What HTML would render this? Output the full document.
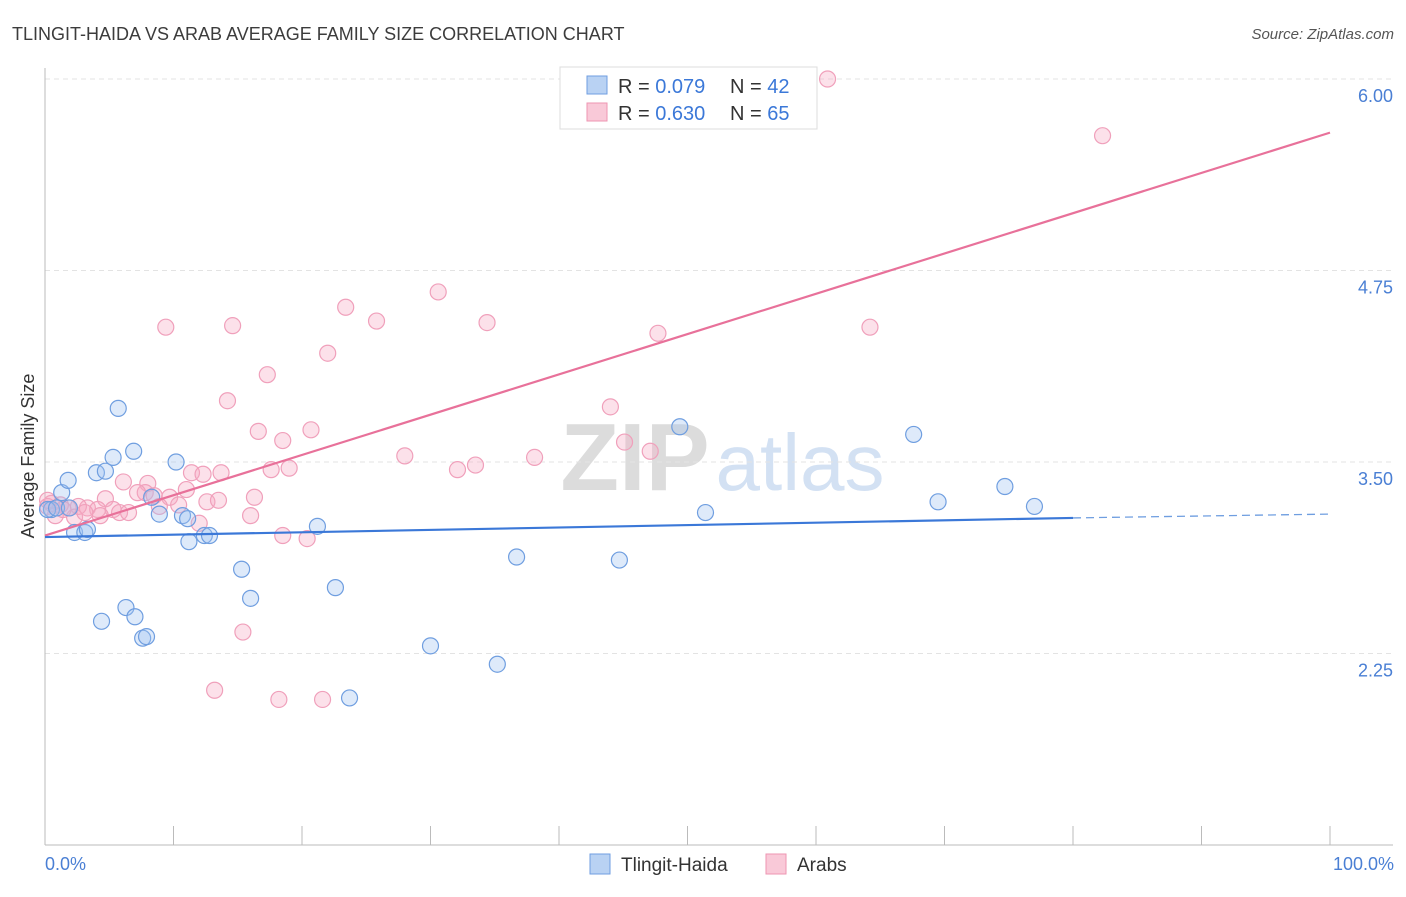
<!DOCTYPE html>
<html><head><meta charset="utf-8">
<style>
body{margin:0;background:#fff;font-family:"Liberation Sans",sans-serif;}
svg text{font-family:"Liberation Sans",sans-serif;}
</style></head>
<body>
<svg id="chart" width="1406" height="892" xmlns="http://www.w3.org/2000/svg">
<text x="12" y="40" font-size="18" fill="#3c3c3c">TLINGIT-HAIDA VS ARAB AVERAGE FAMILY SIZE CORRELATION CHART</text>
<text x="1394" y="39" font-size="15" fill="#555" text-anchor="end" font-style="italic">Source: ZipAtlas.com</text>
<g>
<text x="635" y="490" font-size="96" fill="#dcdcdc" text-anchor="middle" font-family="Liberation Serif" font-weight="bold">ZIP</text>
<text x="800" y="490" font-size="80" fill="#d3e1f3" text-anchor="middle">atlas</text>
</g>
<g id="grid"></g>
<g id="axes"></g>
<g id="points"></g>
<g id="lines"></g>
<text transform="translate(34,456) rotate(-90)" font-size="18" fill="#333" text-anchor="middle">Average Family Size</text>
<text x="45" y="870" font-size="18" fill="#4a7fd4">0.0%</text>
<text x="1394" y="870" font-size="18" fill="#4a7fd4" text-anchor="end">100.0%</text>
<g>
<rect x="560" y="67" width="257" height="62" fill="#fff" stroke="#ddd"/>
<rect x="587" y="76" width="20" height="18" fill="#b9d2f3" stroke="#6f9ee0"/>
<rect x="587" y="103" width="20" height="18" fill="#f9c9d8" stroke="#ee95b2"/>
<text x="618" y="93" font-size="20" fill="#333">R = <tspan fill="#3b78d8">0.079</tspan></text>
<text x="730" y="93" font-size="20" fill="#333">N = <tspan fill="#3b78d8">42</tspan></text>
<text x="618" y="120" font-size="20" fill="#333">R = <tspan fill="#3b78d8">0.630</tspan></text>
<text x="730" y="120" font-size="20" fill="#333">N = <tspan fill="#3b78d8">65</tspan></text>
</g>
<g>
<rect x="590" y="854" width="20" height="20" fill="#b9d2f3" stroke="#6f9ee0"/>
<text x="621" y="871" font-size="19" fill="#333">Tlingit-Haida</text>
<rect x="766" y="854" width="20" height="20" fill="#f9c9d8" stroke="#ee95b2"/>
<text x="797" y="871" font-size="19" fill="#333">Arabs</text>
</g>
</svg>
<script>
const yTicks=[6.00,4.75,3.50,2.25];
const yTickLabels=["6.00","4.75","3.50","2.25"];
const blueX=[0.5,1.3,1.8,2.3,3.1,3.3,4.0,4.7,5.3,5.7,6.3,4.4,7.0,7.6,7.9,6.9,8.3,8.9,10.2,10.7,11.1,11.2,12.4,12.8,15.3,16.0,21.2,22.6,23.7,30.0,35.2,36.7,44.7,49.4,51.4,67.6,69.5,74.7,77.0,0.2,0.9,1.9];
const blueY=[3.19,3.30,3.38,3.04,3.04,3.06,3.43,3.44,3.53,3.85,2.55,2.46,2.49,2.35,2.36,3.57,3.27,3.16,3.50,3.15,3.13,2.98,3.02,3.02,2.80,2.61,3.08,2.68,1.96,2.30,2.18,2.88,2.86,3.73,3.17,3.68,3.24,3.34,3.21,3.19,3.20,3.20];
const pinkX=[60.9,82.3,30.6,23.4,25.8,34.4,9.4,14.6,47.7,64.2,22.0,17.3,14.2,44.0,16.6,18.5,20.7,45.1,47.1,28.0,38.1,33.5,32.1,17.6,19.0,11.4,12.3,13.7,6.1,8.0,7.8,7.2,11.0,4.7,8.5,9.7,12.6,13.5,16.3,10.4,8.9,3.3,4.1,5.3,5.8,6.5,2.6,1.8,1.2,0.5,0.2,0.8,2.3,12.0,16.0,18.5,20.4,15.4,13.2,18.2,21.6,1.4,0.2,3.1,4.3];
const pinkY=[6.00,5.63,4.61,4.51,4.42,4.41,4.38,4.39,4.34,4.38,4.21,4.07,3.90,3.86,3.70,3.64,3.71,3.63,3.57,3.54,3.53,3.48,3.45,3.45,3.46,3.43,3.42,3.43,3.37,3.36,3.30,3.30,3.32,3.26,3.28,3.27,3.24,3.25,3.27,3.22,3.21,3.20,3.19,3.19,3.17,3.17,3.21,3.20,3.22,3.23,3.21,3.15,3.14,3.10,3.15,3.02,3.00,2.39,2.01,1.95,1.95,3.19,3.25,3.17,3.15];
const blueTrend=[3.01,3.135,3.16]; // at 0%, 80%, 100%
const pinkTrend=[3.02,5.65];       // at 0%, 100%

const NS="http://www.w3.org/2000/svg";
const xs=v=>45+v*12.85;
const ys=v=>462-(v-3.5)*153.2;
function mk(tag,attrs,parent){const e=document.createElementNS(NS,tag);for(const k in attrs)e.setAttribute(k,attrs[k]);document.getElementById(parent).appendChild(e);return e;}

yTicks.forEach((t,i)=>{
  const l=mk('line',{x1:45,x2:1393,y1:ys(t),y2:ys(t),stroke:'#e3e3e3','stroke-dasharray':'5,4'},'grid');
  
  
  const tx=mk('text',{x:1393,y:ys(t)+23,'font-size':18,fill:'#4a7fd4','text-anchor':'end'},'grid');
  tx.textContent=yTickLabels[i];
  
  
});
let a=mk('line',{x1:45,x2:45,y1:68,y2:845,stroke:'#bbb'},'axes');


a=mk('line',{x1:45,x2:1393,y1:845,y2:845,stroke:'#bbb'},'axes');


for(let i=0;i<=10;i++){
  const t=mk('line',{x1:xs(i*10),x2:xs(i*10),y1:826,y2:845,stroke:'#bbb'},'axes');
  
  
}
pinkX.forEach((x,i)=>{
  const c=mk('circle',{cx:xs(x),cy:ys(pinkY[i]),r:8,fill:'rgba(246,170,195,0.35)',stroke:'#f0a0bb','stroke-width':1.2},'points');
  
  
});
blueX.forEach((x,i)=>{
  const c=mk('circle',{cx:xs(x),cy:ys(blueY[i]),r:8,fill:'rgba(160,195,240,0.35)',stroke:'#6f9ee0','stroke-width':1.2},'points');
  
  
});
let L=mk('line',{x1:xs(0),y1:ys(pinkTrend[0]),x2:xs(100),y2:ys(pinkTrend[1]),stroke:'#e8719a','stroke-width':2.2},'lines');


L=mk('line',{x1:xs(0),y1:ys(blueTrend[0]),x2:xs(80),y2:ys(blueTrend[1]),stroke:'#3b78d8','stroke-width':2.2},'lines');


L=mk('line',{x1:xs(80),y1:ys(blueTrend[1]),x2:xs(100),y2:ys(blueTrend[2]),stroke:'#6f9ee0','stroke-width':1.3,'stroke-dasharray':'8,5'},'lines');


</script>
</body></html>
